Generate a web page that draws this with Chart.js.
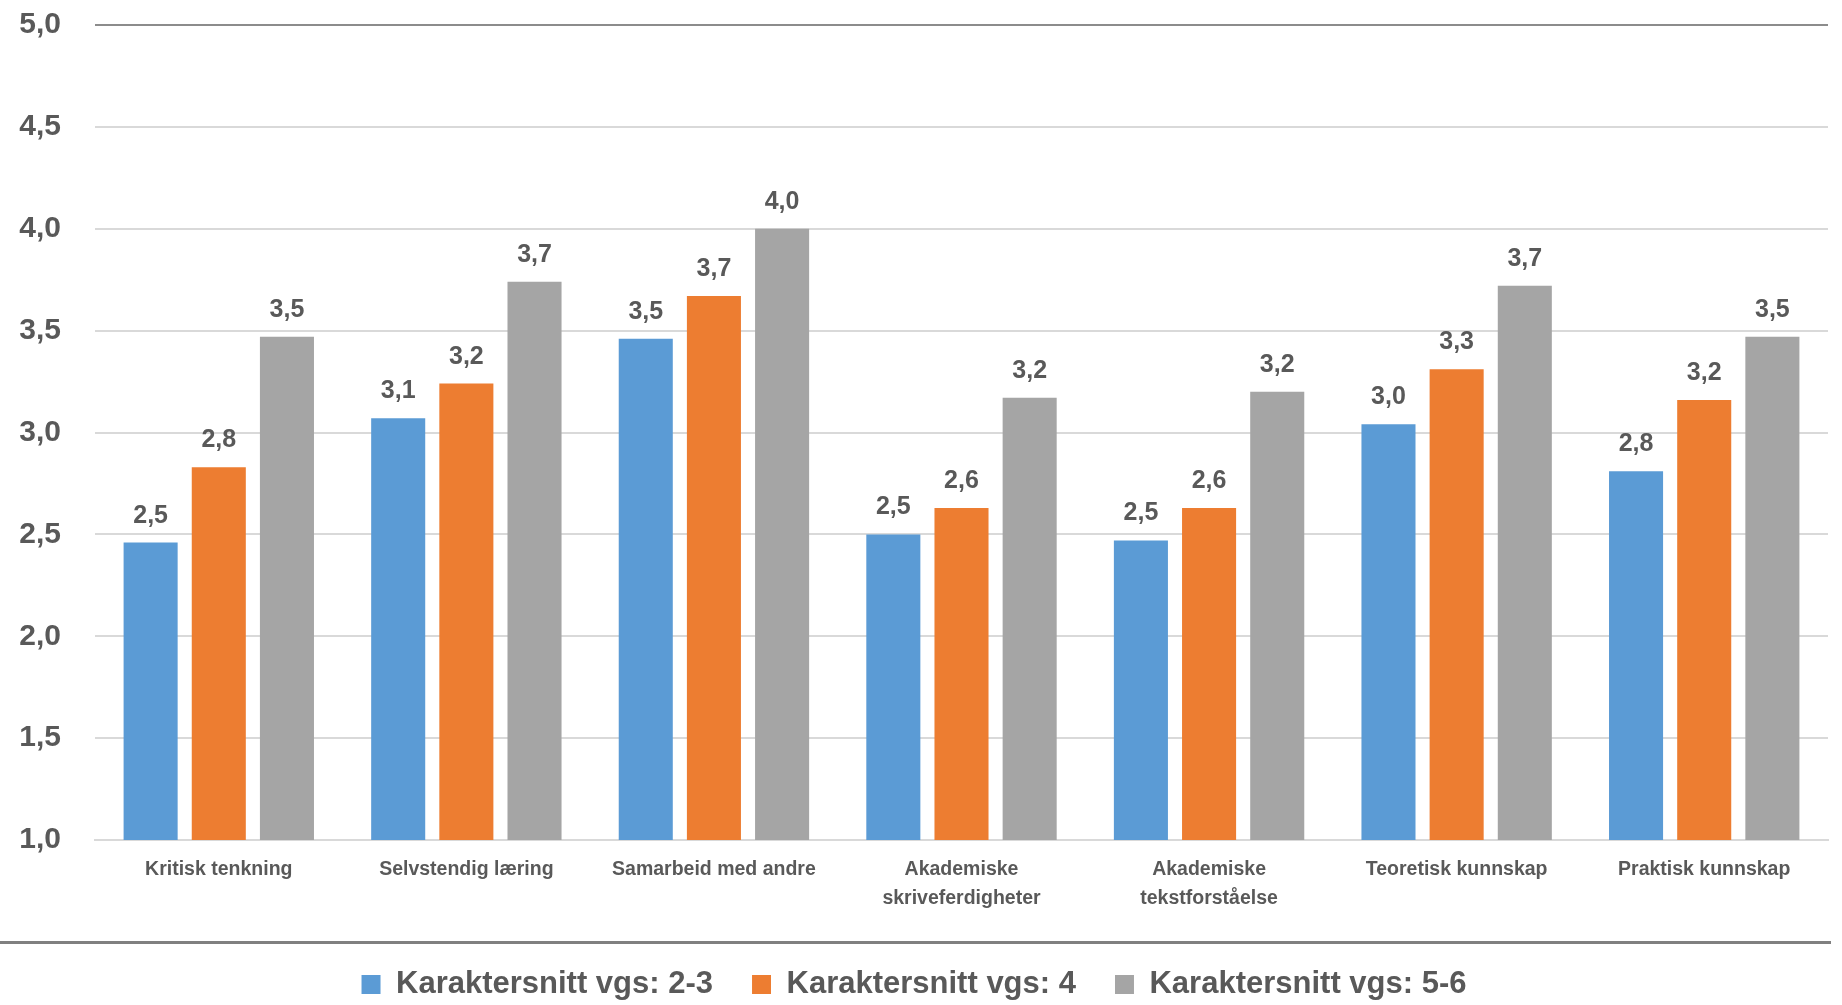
<!DOCTYPE html>
<html lang="no">
<head>
  <meta charset="UTF-8">
  <title>Karaktersnitt vgs</title>
  <script src="https://cdn.jsdelivr.net/npm/chart.js"></script>
  <style>
    html, body { margin: 0; padding: 0; background: #fff; }
    #wrap { width: 1842px; height: 1005px; }
  </style>
</head>
<body>
  <div id="wrap"><canvas id="chart" width="1842" height="1005"></canvas></div>

  <script>
    // kategorier og verdier (lest av figuren)
    const categories = [
      'Kritisk tenkning',
      'Selvstendig læring',
      'Samarbeid med andre',
      ['Akademiske', 'skriveferdigheter'],
      ['Akademiske', 'tekstforståelse'],
      'Teoretisk kunnskap',
      'Praktisk kunnskap'
    ];
    const seriesNames = ['Karaktersnitt vgs: 2-3', 'Karaktersnitt vgs: 4', 'Karaktersnitt vgs: 5-6'];
    const vgs23 = [2.46, 3.07, 3.46, 2.50, 2.47, 3.04, 2.81];
    const vgs4  = [2.83, 3.24, 3.67, 2.63, 2.63, 3.31, 3.16];
    const vgs56 = [3.47, 3.74, 4.00, 3.17, 3.20, 3.72, 3.47];
    const yMin = 1.0, yMax = 5.0, yStep = 0.5;

    const colors = ['#5B9BD5', '#ED7D31', '#A5A5A5'];
    const textColor = '#595959';
    const FONT = '"Liberation Sans", Arial, sans-serif';

    const fmt = v => v.toFixed(1).replace('.', ',');

    // tall over søylene
    const valueLabels = {
      id: 'valueLabels',
      afterDatasetsDraw(chart) {
        const ctx = chart.ctx;
        ctx.save();
        ctx.font = 'bold 25px ' + FONT;
        ctx.fillStyle = textColor;
        ctx.textAlign = 'center';
        ctx.textBaseline = 'alphabetic';
        chart.data.datasets.forEach((ds, i) => {
          chart.getDatasetMeta(i).data.forEach((bar, j) => {
            ctx.fillText(fmt(ds.data[j]), bar.x, bar.y - 20);
          });
        });
        ctx.restore();
      }
    };

    // grå skillelinje over forklaringen
    const separator = {
      id: 'separator',
      afterDraw(chart) {
        const ctx = chart.ctx;
        ctx.save();
        ctx.fillStyle = '#808080';
        ctx.fillRect(0, 941, 1831, 3);
        ctx.restore();
      }
    };

    const datasets = [vgs23, vgs4, vgs56].map((d, i) => ({
      label: seriesNames[i],
      data: d,
      backgroundColor: colors[i],
      borderWidth: 0,
      categoryPercentage: 0.826,
      barPercentage: 0.793
    }));

    new Chart(document.getElementById('chart'), {
      type: 'bar',
      data: { labels: categories, datasets: datasets },
      plugins: [valueLabels, separator],
      options: {
        responsive: false,
        animation: false,
        devicePixelRatio: 1,
        layout: { padding: { top: 25, right: 14, bottom: -5, left: 0 } },
        plugins: {
          tooltip: { enabled: false },
          legend: {
            position: 'bottom',
            labels: {
              boxWidth: 19,
              boxHeight: 19,
              padding: 39,
              color: textColor,
              font: { family: FONT, size: 31, weight: 'bold' }
            }
          }
        },
        scales: {
          x: {
            grid: { display: false, drawTicks: false },
            border: { color: '#D9D9D9', width: 2 },
            ticks: {
              color: textColor,
              font: { family: FONT, size: 19.5, weight: 'bold', lineHeight: 1.5 },
              padding: 15,
              autoSkip: false,
              maxRotation: 0
            },
            afterFit(s) { s.height = 90; }
          },
          y: {
            min: yMin,
            max: yMax,
            grid: {
              drawTicks: true,
              tickLength: 30,
              tickColor: 'rgba(0,0,0,0)',
              lineWidth: 2,
              color: c => (c.tick && c.tick.value === yMax) ? '#8C8C8C' : '#D9D9D9'
            },
            border: { display: false },
            ticks: {
              stepSize: yStep,
              color: textColor,
              padding: 4,
              font: { family: FONT, size: 30, weight: 'bold' },
              callback: v => fmt(v)
            },
            afterFit(s) { s.width = 95; }
          }
        }
      }
    });
  </script>
</body>
</html>
